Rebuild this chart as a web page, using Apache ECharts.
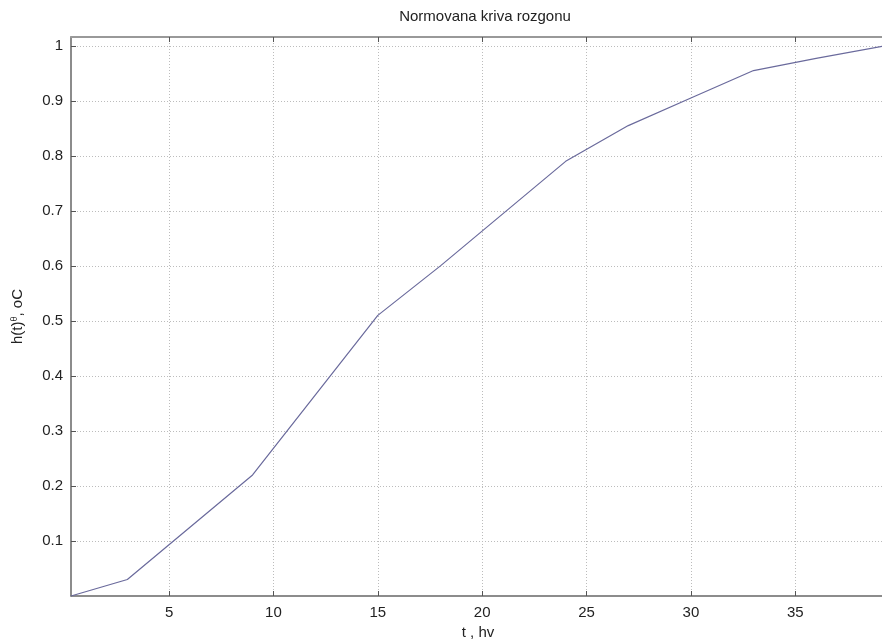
<!DOCTYPE html>
<html>
<head>
<meta charset="utf-8">
<script src="https://cdn.jsdelivr.net/npm/echarts@6/dist/echarts.min.js"></script>
<style>
  html, body { margin: 0; padding: 0; background: #fff; }
  #chart_plot_01 { width: 882px; height: 639px; }
</style>
</head>
<body>
<div id="chart_plot_01"></div>
<script>
// час, години
let t_vals = [0.3, 3, 6, 9, 12, 15, 18, 21, 24, 27, 30, 33, 36, 39.3];
// нормована крива
let h_vals = [0, 0.03, 0.125, 0.22, 0.365, 0.51, 0.6, 0.695, 0.79, 0.855, 0.905, 0.955, 0.977, 1.0];

let x_ticks = [5, 10, 15, 20, 25, 30, 35];
let y_ticks = [0.1, 0.2, 0.3, 0.4, 0.5, 0.6, 0.7, 0.8, 0.9, 1];

let chart_title = 'Normovana kriva rozgonu';
let x_name = 't , hv';

let points = [];
for (let i = 0; i < t_vals.length; i++) {
  points.push([t_vals[i], h_vals[i]]);
}

let font = 'Liberation Sans, Arial, sans-serif';
let gridLine = { show: true, lineStyle: { color: '#bcbcbc', type: [1, 2], width: 1 } };

let myChart = echarts.init(document.getElementById('chart_plot_01'));

let option = {
  animation: false,
  backgroundColor: '#fff',
  title: {
    text: chart_title,
    left: 480,
    textAlign: 'center',
    top: 4,
    textStyle: { fontFamily: font, fontSize: 15, fontWeight: 'normal', color: '#222' }
  },
  grid: {
    left: 71, top: 37, right: -3, bottom: 43,
    outerBoundsMode: 'none',
    containLabel: false,
    show: true, borderColor: '#999', borderWidth: 1
  },
  xAxis: [
    {
      type: 'value',
      min: 0.3, max: 39.3,
      name: x_name,
      nameLocation: 'middle',
      nameGap: 28,
      nameTextStyle: { fontFamily: font, fontSize: 15, color: '#222' },
      axisLine: { show: true, lineStyle: { color: '#777', width: 1.5 } },
      axisTick: { show: true, inside: true, length: 5, customValues: x_ticks, lineStyle: { color: '#555' } },
      axisLabel: { customValues: x_ticks, fontFamily: font, fontSize: 15, color: '#222', margin: 9 },
      splitLine: gridLine
    },
    {
      type: 'value',
      position: 'top',
      min: 0.3, max: 39.3,
      axisLine: { show: true, lineStyle: { color: '#999', width: 2 } },
      axisTick: { show: true, inside: true, length: 5, customValues: x_ticks, lineStyle: { color: '#555' } },
      axisLabel: { show: false },
      splitLine: { show: false }
    }
  ],
  yAxis: {
    type: 'value',
    min: 0, max: 1.016,
    name: '{n|h(t)}{s|θ}{n|, oC}',
    nameLocation: 'middle',
    nameGap: 45,
    nameTextStyle: {
      rich: {
        n: { fontFamily: font, fontSize: 15, color: '#222' },
        s: { fontFamily: font, fontSize: 9, color: '#222', verticalAlign: 'top', padding: [0, 0, 7, 0] }
      }
    },
    axisLine: { show: true, lineStyle: { color: '#777', width: 1.5 } },
    axisTick: { show: true, inside: true, length: 5, customValues: y_ticks, lineStyle: { color: '#555' } },
    axisLabel: { customValues: y_ticks, fontFamily: font, fontSize: 15, color: '#222', margin: 8 },
    splitLine: gridLine
  },
  series: [
    {
      type: 'line',
      data: points,
      showSymbol: false,
      lineStyle: { color: '#6a6a9c', width: 1.2 }
    }
  ]
};

myChart.setOption(option);
</script>
</body>
</html>
